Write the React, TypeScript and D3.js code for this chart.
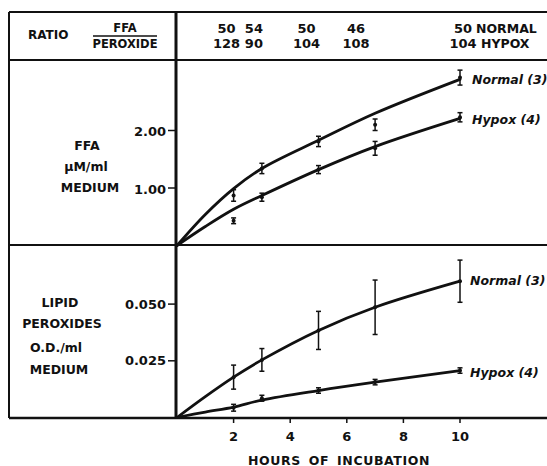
import React from 'react';
import * as d3 from 'd3';

// time points (hours) of the measured values
const hours = [2, 3, 5, 7, 10];

// header ratios FFA / peroxide
const ratioNormal = [50, 54, 50, 46, 50];
const ratioHypox = [128, 90, 104, 108, 104];

// FFA, uM/ml medium
const ffaNormalMean = [0.87, 1.34, 1.81, 2.1, 2.92];
const ffaNormalErr = [0.1, 0.09, 0.09, 0.1, 0.13];
const ffaHypoxMean = [0.43, 0.84, 1.32, 1.69, 2.23];
const ffaHypoxErr = [0.05, 0.07, 0.07, 0.12, 0.08];

// lipid peroxides, O.D./ml medium
const lipNormalMean = [0.0178, 0.0254, 0.0384, 0.0486, 0.0601];
const lipNormalErr = [0.0053, 0.005, 0.0084, 0.012, 0.0093];
const lipHypoxMean = [0.0043, 0.0085, 0.0119, 0.0156, 0.0207];
const lipHypoxErr = [0.0015, 0.0013, 0.0012, 0.0012, 0.0012];

// hand-drawn fitted curves
const fitHours = [0, 1, 2, 3, 5, 7, 10];
const ffaNormalFit = [0, 0.54, 0.99, 1.34, 1.83, 2.3, 2.89];
const ffaHypoxFit = [0, 0.33, 0.63, 0.87, 1.32, 1.72, 2.21];
const lipNormalFit = [0, 0.0092, 0.0178, 0.0254, 0.0384, 0.0486, 0.0601];
const lipHypoxFit = [0, 0.0024, 0.0046, 0.0077, 0.0119, 0.0156, 0.0207];

const xTicks = [2, 4, 6, 8, 10];
const ffaTicks = [1, 2];
const ffaTickLabels = ['1.00', '2.00'];
const lipTicks = [0.025, 0.05];
const lipTickLabels = ['0.025', '0.050'];

const W = 547;
const H = 466;
const FONT = 'DejaVu Sans, sans-serif';
const INK = '#111';

const frameLeft = 9;
const frameTop = 12;
const headBottom = 60;
const midLine = 245;
const axisY = 418;
const axisX = 176;

const x = d3.scaleLinear().domain([0, 10]).range([177, 460]);
const yTop = d3.scaleLinear().domain([0, 1]).range([245.5, 188]);
const yBot = d3.scaleLinear().domain([0, 0.025]).range([417.5, 360.8]);

// header label nudges so the ratios sit like the printed ones
const headerNudge = [-7, -8, -12, -19, 3];

type Scale = d3.ScaleLinear<number, number>;

const Series = ({ y, fit, mean, err }: { y: Scale; fit: number[]; mean: number[]; err: number[] }) => {
  const line = d3
    .line<number>()
    .x((_, i) => x(fitHours[i]))
    .y((d) => y(d))
    .curve(d3.curveCatmullRom.alpha(0.5));
  return (
    <g>
      <path d={line(fit) || ''} fill="none" stroke={INK} strokeWidth={2.8} strokeLinecap="round" />
      {hours.map((h, i) => {
        const cx = x(h);
        const y1 = y(mean[i] + err[i]);
        const y2 = y(mean[i] - err[i]);
        return (
          <g key={h} stroke={INK} strokeWidth={1.5}>
            <line x1={cx} x2={cx} y1={y1} y2={y2} />
            <line x1={cx - 2.5} x2={cx + 2.5} y1={y1} y2={y1} />
            <line x1={cx - 2.5} x2={cx + 2.5} y1={y2} y2={y2} />
            <circle cx={cx} cy={y(mean[i])} r={2} fill={INK} stroke="none" />
          </g>
        );
      })}
    </g>
  );
};

const App = () => {
  const bold = { fontFamily: FONT, fontWeight: 700, fill: INK } as const;
  return (
    <svg width={W} height={H} style={{ position: 'absolute', left: 0, top: 0, background: '#fff' }}>
      <rect width={W} height={H} fill="#fff" />

      {/* frame */}
      <g stroke={INK} strokeWidth={2} fill="none">
        <line x1={frameLeft} x2={W} y1={frameTop} y2={frameTop} />
        <line x1={frameLeft} x2={W} y1={headBottom} y2={headBottom} />
        <line x1={frameLeft} x2={W} y1={midLine} y2={midLine} />
        <line x1={frameLeft} x2={W} y1={axisY} y2={axisY} strokeWidth={2.6} />
        <line x1={frameLeft} x2={frameLeft} y1={frameTop} y2={axisY} />
        <line x1={axisX} x2={axisX} y1={frameTop} y2={axisY} strokeWidth={3} />
      </g>

      {/* header */}
      <text x={28} y={35} dominantBaseline="central" fontSize={12} {...bold}>RATIO</text>
      <text x={125} y={28} textAnchor="middle" dominantBaseline="central" fontSize={11.5} {...bold}>FFA</text>
      <line x1={93} x2={157} y1={36} y2={36} stroke={INK} strokeWidth={1.6} />
      <text x={125} y={44} textAnchor="middle" dominantBaseline="central" fontSize={11.5} {...bold}>PEROXIDE</text>
      {hours.map((h, i) => (
        <g key={h}>
          <text x={x(h) + headerNudge[i]} y={28} textAnchor="middle" dominantBaseline="central" fontSize={13} {...bold}>
            {ratioNormal[i]}
          </text>
          <text x={x(h) + headerNudge[i]} y={43} textAnchor="middle" dominantBaseline="central" fontSize={13} {...bold}>
            {ratioHypox[i]}
          </text>
        </g>
      ))}
      <text x={476} y={28} dominantBaseline="central" fontSize={12.5} {...bold}>NORMAL</text>
      <text x={481} y={43} dominantBaseline="central" fontSize={12.5} {...bold}>HYPOX</text>

      {/* top panel: FFA */}
      <g textAnchor="middle" fontSize={12.5} {...bold}>
        <text x={87} y={145} dominantBaseline="central">FFA</text>
        <text x={86} y={166} dominantBaseline="central">µM/ml</text>
        <text x={90} y={187} dominantBaseline="central">MEDIUM</text>
      </g>
      {ffaTicks.map((t, i) => (
        <g key={t}>
          <line x1={axisX - 8} x2={axisX} y1={yTop(t)} y2={yTop(t)} stroke={INK} strokeWidth={1.5} />
          <text x={axisX - 10} y={yTop(t) + 1} textAnchor="end" dominantBaseline="central" fontSize={13} {...bold}>
            {ffaTickLabels[i]}
          </text>
        </g>
      ))}
      <Series y={yTop} fit={ffaNormalFit} mean={ffaNormalMean} err={ffaNormalErr} />
      <Series y={yTop} fit={ffaHypoxFit} mean={ffaHypoxMean} err={ffaHypoxErr} />
      <g fontSize={12.5} fontStyle="italic" {...bold}>
        <text x={472} y={79} dominantBaseline="central">Normal (3)</text>
        <text x={472} y={119} dominantBaseline="central">Hypox (4)</text>
      </g>

      {/* bottom panel: lipid peroxides */}
      <g textAnchor="middle" fontSize={12.5} {...bold}>
        <text x={60} y={302} dominantBaseline="central">LIPID</text>
        <text x={62} y={323} dominantBaseline="central">PEROXIDES</text>
        <text x={56} y={347} dominantBaseline="central">O.D./ml</text>
        <text x={59} y={369} dominantBaseline="central">MEDIUM</text>
      </g>
      {lipTicks.map((t, i) => (
        <g key={t}>
          <line x1={axisX - 8} x2={axisX} y1={yBot(t)} y2={yBot(t)} stroke={INK} strokeWidth={1.5} />
          <text x={axisX - 10} y={yBot(t)} textAnchor="end" dominantBaseline="central" fontSize={13} {...bold}>
            {lipTickLabels[i]}
          </text>
        </g>
      ))}
      <Series y={yBot} fit={lipNormalFit} mean={lipNormalMean} err={lipNormalErr} />
      <Series y={yBot} fit={lipHypoxFit} mean={lipHypoxMean} err={lipHypoxErr} />
      <g fontSize={12.5} fontStyle="italic" {...bold}>
        <text x={470} y={280} dominantBaseline="central">Normal (3)</text>
        <text x={470} y={372} dominantBaseline="central">Hypox (4)</text>
      </g>

      {/* x axis */}
      {xTicks.map((t) => (
        <g key={t}>
          <line x1={x(t)} x2={x(t)} y1={axisY} y2={axisY + 5} stroke={INK} strokeWidth={1.5} />
          <text x={x(t)} y={436} textAnchor="middle" dominantBaseline="central" fontSize={13} {...bold}>
            {t}
          </text>
        </g>
      ))}
      <text x={339} y={460} textAnchor="middle" dominantBaseline="central" fontSize={12.5} letterSpacing={0.6} wordSpacing={3} {...bold}>
        HOURS OF INCUBATION
      </text>
    </svg>
  );
};

export default App;
